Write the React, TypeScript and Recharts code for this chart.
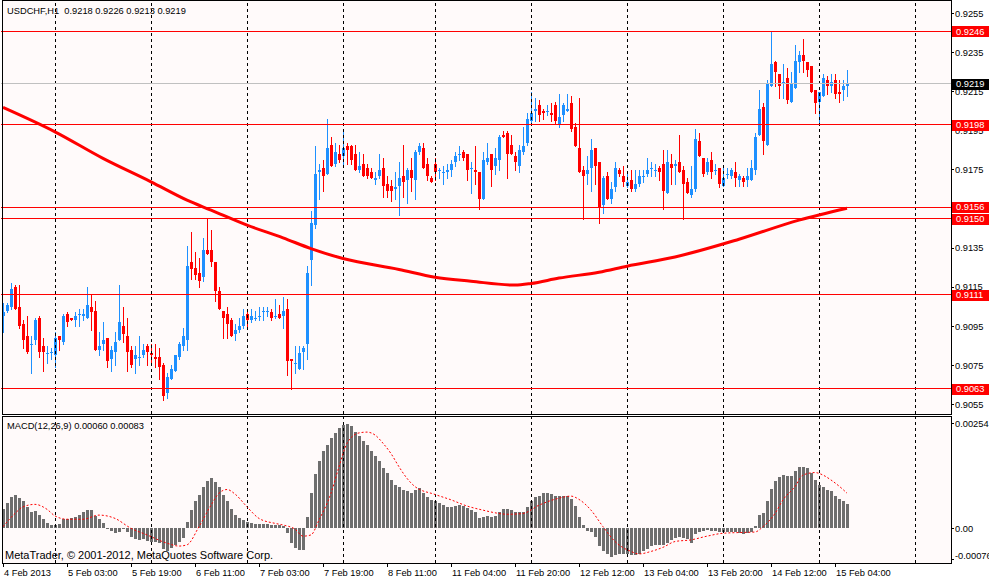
import React from 'react';
import { ComposedChart, Bar, Line, XAxis, YAxis, ReferenceLine } from 'recharts';

// USDCHF H1 candles, 4 Feb 11:00 .. 15 Feb 07:00 (212 bars)
const opens = [
  0.9100, 0.9103, 0.9105, 0.9115, 0.9105, 0.9096, 0.9090, 0.9086, 0.9088, 0.9099,
  0.9085, 0.9081, 0.9082, 0.9080, 0.9090, 0.9087, 0.9101, 0.9099, 0.9098, 0.9101,
  0.9100, 0.9099, 0.9105, 0.9103, 0.9083, 0.9086, 0.9089, 0.9078, 0.9082, 0.9088,
  0.9095, 0.9090, 0.9083, 0.9078, 0.9079, 0.9080, 0.9085, 0.9081, 0.9079, 0.9079,
  0.9075, 0.9061, 0.9068, 0.9072, 0.9079, 0.9085, 0.9088, 0.9128, 0.9125, 0.9122,
  0.9120, 0.9134, 0.9134, 0.9128, 0.9113, 0.9103, 0.9101, 0.9098, 0.9091, 0.9093,
  0.9095, 0.9101, 0.9098, 0.9099, 0.9100, 0.9102, 0.9102, 0.9102, 0.9100, 0.9101,
  0.9100, 0.9104, 0.9078, 0.9076, 0.9073, 0.9082, 0.9086, 0.9129, 0.9147, 0.9174,
  0.9176, 0.9173, 0.9188, 0.9178, 0.9183, 0.9182, 0.9187, 0.9187, 0.9183, 0.9175,
  0.9178, 0.9176, 0.9174, 0.9170, 0.9172, 0.9176, 0.9168, 0.9167, 0.9165, 0.9167,
  0.9172, 0.9170, 0.9175, 0.9170, 0.9184, 0.9186, 0.9178, 0.9171, 0.9178, 0.9175,
  0.9174, 0.9174, 0.9175, 0.9179, 0.9183, 0.9184, 0.9183, 0.9176, 0.9175, 0.9174,
  0.9160, 0.9179, 0.9183, 0.9177, 0.9180, 0.9193, 0.9194, 0.9188, 0.9182, 0.9177,
  0.9184, 0.9189, 0.9200, 0.9205, 0.9208, 0.9205, 0.9205, 0.9204, 0.9208, 0.9198,
  0.9203, 0.9205, 0.9209, 0.9197, 0.9186, 0.9175, 0.9173, 0.9176, 0.9186, 0.9179,
  0.9157, 0.9172, 0.9160, 0.9166, 0.9175, 0.9172, 0.9167, 0.9170, 0.9165, 0.9168,
  0.9172, 0.9173, 0.9176, 0.9175, 0.9176, 0.9178, 0.9163, 0.9178, 0.9177, 0.9179,
  0.9175, 0.9169, 0.9162, 0.9165, 0.9190, 0.9181, 0.9174, 0.9180, 0.9175, 0.9176,
  0.9167, 0.9173, 0.9172, 0.9174, 0.9170, 0.9171, 0.9170, 0.9170, 0.9175, 0.9193,
  0.9207, 0.9188, 0.9218, 0.9230, 0.9224, 0.9220, 0.9222, 0.9210, 0.9217, 0.9230,
  0.9234, 0.9230, 0.9228, 0.9216, 0.9210, 0.9213, 0.9221, 0.9218, 0.9221, 0.9215,
  0.9216, 0.9218,
];

const highs = [
  0.9107, 0.9107, 0.9117, 0.9116, 0.9116, 0.9098, 0.9100, 0.9090, 0.9099, 0.9100,
  0.9089, 0.9085, 0.9084, 0.9092, 0.9090, 0.9101, 0.9102, 0.9099, 0.9102, 0.9104,
  0.9104, 0.9115, 0.9111, 0.9108, 0.9092, 0.9097, 0.9089, 0.9085, 0.9092, 0.9116,
  0.9105, 0.9099, 0.9085, 0.9085, 0.9090, 0.9086, 0.9086, 0.9086, 0.9086, 0.9084,
  0.9076, 0.9071, 0.9075, 0.9080, 0.9087, 0.9094, 0.9136, 0.9143, 0.9133, 0.9130,
  0.9140, 0.9150, 0.9144, 0.9128, 0.9115, 0.9103, 0.9105, 0.9099, 0.9096, 0.9099,
  0.9104, 0.9104, 0.9104, 0.9103, 0.9105, 0.9105, 0.9105, 0.9104, 0.9109, 0.9106,
  0.9110, 0.9109, 0.9078, 0.9085, 0.9085, 0.9085, 0.9126, 0.9154, 0.9187, 0.9178,
  0.9180, 0.9201, 0.9192, 0.9189, 0.9188, 0.9195, 0.9189, 0.9188, 0.9188, 0.9184,
  0.9183, 0.9178, 0.9176, 0.9174, 0.9183, 0.9181, 0.9172, 0.9170, 0.9174, 0.9179,
  0.9188, 0.9176, 0.9181, 0.9185, 0.9189, 0.9189, 0.9181, 0.9172, 0.9181, 0.9176,
  0.9177, 0.9178, 0.9180, 0.9184, 0.9187, 0.9185, 0.9183, 0.9179, 0.9187, 0.9174,
  0.9184, 0.9189, 0.9183, 0.9186, 0.9193, 0.9195, 0.9195, 0.9193, 0.9184, 0.9188,
  0.9197, 0.9204, 0.9215, 0.9212, 0.9211, 0.9206, 0.9208, 0.9209, 0.9210, 0.9214,
  0.9209, 0.9214, 0.9213, 0.9199, 0.9212, 0.9177, 0.9182, 0.9191, 0.9186, 0.9179,
  0.9172, 0.9174, 0.9169, 0.9179, 0.9176, 0.9177, 0.9174, 0.9175, 0.9175, 0.9175,
  0.9175, 0.9181, 0.9179, 0.9178, 0.9177, 0.9185, 0.9185, 0.9183, 0.9180, 0.9193,
  0.9177, 0.9171, 0.9177, 0.9196, 0.9194, 0.9181, 0.9181, 0.9184, 0.9178, 0.9176,
  0.9176, 0.9176, 0.9176, 0.9179, 0.9173, 0.9172, 0.9176, 0.9180, 0.9194, 0.9216,
  0.9209, 0.9221, 0.9246, 0.9231, 0.9224, 0.9229, 0.9227, 0.9225, 0.9239, 0.9236,
  0.9242, 0.9230, 0.9228, 0.9216, 0.9215, 0.9224, 0.9223, 0.9224, 0.9224, 0.9221,
  0.9221, 0.9226,
];

const lows = [
  0.9092, 0.9102, 0.9104, 0.9104, 0.9094, 0.9084, 0.9081, 0.9071, 0.9086, 0.9079,
  0.9072, 0.9076, 0.9078, 0.9074, 0.9083, 0.9086, 0.9095, 0.9098, 0.9095, 0.9095,
  0.9098, 0.9099, 0.9093, 0.9083, 0.9080, 0.9083, 0.9074, 0.9072, 0.9075, 0.9088,
  0.9087, 0.9072, 0.9074, 0.9071, 0.9075, 0.9079, 0.9075, 0.9075, 0.9074, 0.9068,
  0.9057, 0.9058, 0.9068, 0.9072, 0.9078, 0.9083, 0.9083, 0.9119, 0.9119, 0.9115,
  0.9118, 0.9132, 0.9126, 0.9108, 0.9104, 0.9089, 0.9089, 0.9090, 0.9088, 0.9092,
  0.9094, 0.9094, 0.9097, 0.9098, 0.9098, 0.9098, 0.9100, 0.9098, 0.9099, 0.9099,
  0.9094, 0.9070, 0.9063, 0.9071, 0.9073, 0.9073, 0.9078, 0.9116, 0.9145, 0.9160,
  0.9164, 0.9173, 0.9177, 0.9177, 0.9179, 0.9177, 0.9178, 0.9178, 0.9175, 0.9174,
  0.9172, 0.9171, 0.9171, 0.9168, 0.9171, 0.9161, 0.9161, 0.9159, 0.9160, 0.9152,
  0.9161, 0.9158, 0.9164, 0.9160, 0.9183, 0.9176, 0.9170, 0.9169, 0.9170, 0.9171,
  0.9168, 0.9171, 0.9172, 0.9177, 0.9180, 0.9180, 0.9170, 0.9163, 0.9168, 0.9155,
  0.9160, 0.9178, 0.9167, 0.9173, 0.9175, 0.9192, 0.9171, 0.9183, 0.9175, 0.9174,
  0.9183, 0.9188, 0.9199, 0.9200, 0.9200, 0.9201, 0.9203, 0.9200, 0.9199, 0.9197,
  0.9200, 0.9205, 0.9195, 0.9187, 0.9174, 0.9150, 0.9168, 0.9164, 0.9168, 0.9148,
  0.9153, 0.9160, 0.9158, 0.9164, 0.9172, 0.9167, 0.9166, 0.9164, 0.9164, 0.9167,
  0.9169, 0.9172, 0.9172, 0.9172, 0.9170, 0.9155, 0.9163, 0.9168, 0.9168, 0.9174,
  0.9150, 0.9163, 0.9161, 0.9164, 0.9182, 0.9172, 0.9173, 0.9171, 0.9173, 0.9166,
  0.9167, 0.9171, 0.9171, 0.9167, 0.9167, 0.9167, 0.9167, 0.9170, 0.9173, 0.9193,
  0.9183, 0.9188, 0.9218, 0.9218, 0.9212, 0.9212, 0.9209, 0.9210, 0.9217, 0.9225,
  0.9225, 0.9223, 0.9215, 0.9204, 0.9199, 0.9213, 0.9214, 0.9215, 0.9212, 0.9210,
  0.9211, 0.9213,
];

const closes = [
  0.9102, 0.9106, 0.9114, 0.9104, 0.9095, 0.9088, 0.9082, 0.9086, 0.9098, 0.9082,
  0.9082, 0.9081, 0.9082, 0.9089, 0.9088, 0.9100, 0.9097, 0.9098, 0.9100, 0.9101,
  0.9101, 0.9106, 0.9102, 0.9083, 0.9085, 0.9088, 0.9077, 0.9083, 0.9087, 0.9097,
  0.9091, 0.9082, 0.9075, 0.9080, 0.9079, 0.9083, 0.9082, 0.9080, 0.9078, 0.9074,
  0.9059, 0.9069, 0.9073, 0.9080, 0.9086, 0.9090, 0.9126, 0.9124, 0.9121, 0.9118,
  0.9134, 0.9132, 0.9128, 0.9113, 0.9104, 0.9099, 0.9096, 0.9090, 0.9093, 0.9095,
  0.9100, 0.9098, 0.9100, 0.9099, 0.9100, 0.9103, 0.9103, 0.9099, 0.9100, 0.9099,
  0.9103, 0.9077, 0.9077, 0.9076, 0.9081, 0.9084, 0.9122, 0.9148, 0.9173, 0.9175,
  0.9172, 0.9186, 0.9177, 0.9184, 0.9180, 0.9186, 0.9185, 0.9180, 0.9175, 0.9177,
  0.9172, 0.9172, 0.9171, 0.9171, 0.9175, 0.9167, 0.9164, 0.9164, 0.9166, 0.9171,
  0.9169, 0.9175, 0.9171, 0.9184, 0.9187, 0.9176, 0.9172, 0.9169, 0.9174, 0.9175,
  0.9174, 0.9175, 0.9178, 0.9182, 0.9183, 0.9181, 0.9175, 0.9176, 0.9174, 0.9160,
  0.9180, 0.9181, 0.9175, 0.9181, 0.9192, 0.9192, 0.9183, 0.9183, 0.9179, 0.9185,
  0.9187, 0.9201, 0.9204, 0.9206, 0.9203, 0.9204, 0.9205, 0.9203, 0.9200, 0.9202,
  0.9208, 0.9206, 0.9196, 0.9187, 0.9174, 0.9172, 0.9175, 0.9185, 0.9177, 0.9156,
  0.9171, 0.9160, 0.9165, 0.9176, 0.9173, 0.9169, 0.9169, 0.9165, 0.9168, 0.9172,
  0.9172, 0.9175, 0.9176, 0.9175, 0.9174, 0.9164, 0.9179, 0.9176, 0.9178, 0.9174,
  0.9168, 0.9163, 0.9165, 0.9191, 0.9182, 0.9173, 0.9179, 0.9174, 0.9175, 0.9168,
  0.9171, 0.9173, 0.9175, 0.9171, 0.9172, 0.9169, 0.9172, 0.9176, 0.9192, 0.9206,
  0.9190, 0.9219, 0.9229, 0.9225, 0.9218, 0.9220, 0.9211, 0.9219, 0.9231, 0.9234,
  0.9231, 0.9226, 0.9215, 0.9209, 0.9215, 0.9222, 0.9218, 0.9220, 0.9214, 0.9214,
  0.9218, 0.9219,
];

// moving average, read at a few bars (library draws the curve between them)
const maIdx = [0, 13, 25, 37, 46, 52, 61, 70, 77, 85, 99, 108, 117, 128, 132, 139, 149, 156, 168, 184, 199, 211];
const maVal = [
  0.92070, 0.91945, 0.91809, 0.91689, 0.91595, 0.91544, 0.91467, 0.91402, 0.91347, 0.91296, 0.91240,
  0.91200, 0.91180, 0.91160, 0.91168, 0.91196, 0.91226, 0.91257, 0.91304, 0.91395, 0.91493, 0.91554,
];

// MACD(12,26,9) main histogram, one per bar
const macdHist = [
  0.00047, 0.00062, 0.00075, 0.00080, 0.00073, 0.00067, 0.00052, 0.00040, 0.00043, 0.00032,
  0.00023, 0.00012, 0.00008, 0.00008, 0.00010, 0.00022, 0.00023, 0.00026, 0.00028, 0.00032,
  0.00039, 0.00044, 0.00044, 0.00030, 0.00022, 0.00012, -0.00002, -0.00006, -0.00012, -0.00008,
  -0.00002, -0.00008, -0.00020, -0.00027, -0.00028, -0.00027, -0.00030, -0.00034, -0.00032, -0.00036,
  -0.00051, -0.00054, -0.00048, -0.00040, -0.00032, -0.00024, 0.00015, 0.00044, 0.00065, 0.00081,
  0.00100, 0.00115, 0.00123, 0.00113, 0.00100, 0.00081, 0.00065, 0.00046, 0.00032, 0.00024,
  0.00020, 0.00016, 0.00014, 0.00010, 0.00010, 0.00010, 0.00010, 0.00008, 0.00008, 0.00008,
  0.00006, -0.00012, -0.00036, -0.00048, -0.00052, -0.00052, 0.00028, 0.00085, 0.00131, 0.00164,
  0.00188, 0.00202, 0.00218, 0.00231, 0.00242, 0.00250, 0.00252, 0.00248, 0.00234, 0.00223,
  0.00212, 0.00202, 0.00188, 0.00175, 0.00164, 0.00145, 0.00133, 0.00117, 0.00105, 0.00099,
  0.00093, 0.00091, 0.00085, 0.00093, 0.00097, 0.00086, 0.00077, 0.00069, 0.00067, 0.00062,
  0.00056, 0.00052, 0.00052, 0.00055, 0.00056, 0.00055, 0.00048, 0.00044, 0.00040, 0.00024,
  0.00028, 0.00030, 0.00028, 0.00030, 0.00039, 0.00047, 0.00047, 0.00044, 0.00040, 0.00040,
  0.00040, 0.00052, 0.00065, 0.00075, 0.00079, 0.00085, 0.00086, 0.00083, 0.00078, 0.00078,
  0.00078, 0.00078, 0.00070, 0.00054, 0.00027, 0.00008, -0.00006, -0.00008, -0.00020, -0.00043,
  -0.00056, -0.00062, -0.00069, -0.00065, -0.00062, -0.00062, -0.00062, -0.00065, -0.00065, -0.00062,
  -0.00056, -0.00051, -0.00044, -0.00040, -0.00040, -0.00040, -0.00035, -0.00028, -0.00024, -0.00022,
  -0.00024, -0.00027, -0.00035, -0.00014, -0.00008, -0.00006, -0.00004, -0.00006, -0.00006, -0.00008,
  -0.00010, -0.00010, -0.00010, -0.00010, -0.00012, -0.00014, -0.00012, -0.00008, 0.00006, 0.00032,
  0.00036, 0.00067, 0.00095, 0.00115, 0.00125, 0.00129, 0.00127, 0.00127, 0.00140, 0.00148,
  0.00149, 0.00145, 0.00133, 0.00117, 0.00105, 0.00099, 0.00093, 0.00090, 0.00078, 0.00070,
  0.00067, 0.00060,
];

// MACD signal line, read at a few bars
const signalIdx = [
  0, 3, 5, 8, 11, 13, 16, 20, 24, 28, 32, 36, 41, 44, 46, 49, 52, 54, 56, 58, 61, 64, 68, 70,
  73, 75, 77, 79, 82, 84, 86, 89, 91, 93, 95, 97, 99, 101, 103, 108, 112, 116, 120, 124, 126,
  130, 134, 139, 142, 144, 147, 150, 153, 157, 159, 162, 165, 168, 172, 176, 180, 185, 188,
  190, 193, 195, 198, 200, 203, 205, 207, 210, 211,
];
const signalVal = [
  0.00004, 0.00036, 0.00052, 0.00058, 0.00046, 0.00030, 0.00022, 0.00022, 0.00032, 0.00024,
  0.00000, -0.00016, -0.00036, -0.00043, -0.00040, 0.00004, 0.00056, 0.00085, 0.00094, 0.00083,
  0.00052, 0.00024, 0.00012, 0.00008, -0.00002, -0.00019, -0.00016, 0.00020, 0.00085, 0.00149,
  0.00206, 0.00231, 0.00233, 0.00226, 0.00206, 0.00181, 0.00149, 0.00121, 0.00101, 0.00082,
  0.00069, 0.00054, 0.00044, 0.00036, 0.00034, 0.00036, 0.00056, 0.00073, 0.00078, 0.00070,
  0.00044, 0.00004, -0.00032, -0.00056, -0.00062, -0.00056, -0.00046, -0.00032, -0.00028, -0.00019,
  -0.00012, -0.00010, -0.00009, 0.00004, 0.00036, 0.00069, 0.00101, 0.00129, 0.00135, 0.00129,
  0.00117, 0.00094, 0.00085,
];

const tickIdx = [0, 16, 32, 48, 64, 80, 96, 112, 128, 144, 160, 176, 192, 208];
const tickText = [
  '4 Feb 2013', '5 Feb 03:00', '5 Feb 19:00', '6 Feb 11:00', '7 Feb 03:00', '7 Feb 19:00', '8 Feb 11:00',
  '11 Feb 04:00', '11 Feb 20:00', '12 Feb 12:00', '13 Feb 04:00', '13 Feb 20:00', '14 Feb 12:00', '15 Feb 04:00',
];
const dayStartIdx = [13, 37, 61, 85, 108, 132, 156, 180, 204, 228];
const levels = [0.9246, 0.9198, 0.9156, 0.9150, 0.9111, 0.9063];
const bid = 0.9219;
const priceTicks = [0.9255, 0.9235, 0.9215, 0.9195, 0.9175, 0.9155, 0.9135, 0.9115, 0.9095, 0.9075, 0.9055];
const macdTicks = [0.00254, 0, -0.00076];

const SLOTS = 238;
const FONT = '"Liberation Sans", Arial, sans-serif';
const FS = 9.3;
const BULL = '#1E90FF';
const BEAR = '#FF0000';

const data: any[] = Array.from({ length: SLOTS }, (_, i) => {
  const has = i < opens.length;
  return {
    i,
    range: has ? [lows[i], highs[i]] : null,
    open: has ? opens[i] : null,
    close: has ? closes[i] : null,
    macd: has ? macdHist[i] : null,
    signal: null,
    ma: null,
  };
});
maIdx.forEach((k, j) => { data[k].ma = maVal[j]; });
signalIdx.forEach((k, j) => { data[k].signal = signalVal[j]; });

// plain scale ticks first, the line tags after them so the tags cover the ticks
const axisTicks = [...priceTicks, ...levels, bid];

const Candle = (props: any) => {
  const { x, y, height, payload } = props;
  if (!payload || payload.open == null || y == null) return null;
  const { open, close } = payload;
  const [low, high] = payload.range;
  const color = close >= open ? BULL : BEAR;
  const k = high > low ? height / (high - low) : 0;
  const top = Math.round(y);
  const bottom = Math.round(y + height);
  const bTop = Math.round(y + (high - Math.max(open, close)) * k);
  const bBot = Math.round(y + (high - Math.min(open, close)) * k);
  const bx = Math.round(x);
  return (
    <g>
      <rect x={bx + 1} y={top} width={1} height={Math.max(1, bottom - top + 1)} fill={color} />
      <rect x={bx} y={bTop} width={3} height={Math.max(1, bBot - bTop)} fill={color} />
    </g>
  );
};

const HistBar = (props: any) => {
  const { x, y, height } = props;
  if (y == null || height == null) return null;
  const t = Math.round(Math.min(y, y + height));
  const b = Math.round(Math.max(y, y + height));
  return <rect x={Math.round(x)} y={t} width={3} height={Math.max(1, b - t)} fill="#6E6E6E" />;
};

const PriceTick = (props: any) => {
  const { x, y, payload } = props;
  const v = payload.value;
  const isLevel = levels.includes(v);
  if (isLevel || v === bid) {
    return (
      <g>
        <rect x={x - 1} y={Math.round(y) - 5} width={40} height={11} fill={isLevel ? '#FF0000' : '#000000'} />
        <text x={x + 3} y={y + 3.4} fill="#FFFFFF" fontSize={FS} fontFamily={FONT}>{v.toFixed(4)}</text>
      </g>
    );
  }
  return (
    <g>
      <line x1={x - 2} x2={x + 1} y1={y} y2={y} stroke="#000" />
      <text x={x + 2} y={y + 3.4} fontSize={FS} fontFamily={FONT} fill="#000">{v.toFixed(4)}</text>
    </g>
  );
};

const MacdTick = (props: any) => {
  const { x, y, payload } = props;
  const v = payload.value;
  const txt = v === 0 ? '0.00' : v.toFixed(5);
  const dy = v < 0 ? -3.7 : 0;
  return (
    <g>
      <line x1={x - 2} x2={x + 1} y1={y} y2={y} stroke="#000" />
      <text x={x + 2} y={y + 3.4 + dy} fontSize={FS} fontFamily={FONT} fill="#000">{txt}</text>
    </g>
  );
};

const TimeTick = (props: any) => {
  const { x, y, payload } = props;
  const k = tickIdx.indexOf(payload.value);
  if (k < 0) return null;
  return (
    <g>
      <line x1={x} x2={x} y1={y} y2={y + 4} stroke="#000" />
      <text x={x + 1} y={y + 13} fontSize={FS} fontFamily={FONT} fill="#000">{tickText[k]}</text>
    </g>
  );
};

const textStyle: React.CSSProperties = {
  position: 'absolute', fontFamily: FONT, fontSize: FS, lineHeight: '12px', color: '#000', whiteSpace: 'pre',
};

export default function App() {
  return (
    <div style={{ position: 'fixed', left: 0, top: 0, width: 989, height: 580, background: '#FFFFFF', overflow: 'hidden' }}>
      <style>{`.crisp rect, .crisp line { shape-rendering: crispEdges; }`}</style>
      <div style={{ position: 'absolute', left: 2, top: 0, width: 949, height: 414, background: '#FFFAFA' }} />
      <div style={{ position: 'absolute', left: 2, top: 416, width: 949, height: 147, background: '#FFFAFA' }} />

      <div className="crisp" style={{ position: 'absolute', left: 0, top: 0 }}>
        <ComposedChart width={989} height={414} data={data} margin={{ top: 0, right: 0, bottom: 0, left: 1 }}>
          <XAxis dataKey="i" type="category" hide />
          <YAxis
            orientation="right" width={36} domain={[0.905, 0.9262]} allowDataOverflow ticks={axisTicks}
            axisLine={false} tickLine={false} tickSize={0} tickMargin={0} interval={0} tick={<PriceTick />}
          />
          {dayStartIdx.map((k) => (
            <ReferenceLine key={`d${k}`} x={k} stroke="#000" strokeDasharray="3 3" />
          ))}
          <Bar dataKey="range" barSize={3} shape={<Candle />} isAnimationActive={false} />
          <Line
            dataKey="ma" type="monotone" connectNulls stroke="#FF0000" strokeWidth={3}
            dot={false} activeDot={false} isAnimationActive={false}
          />
          <ReferenceLine y={bid} stroke="#C0C0C0" />
          {levels.map((v) => (
            <ReferenceLine key={`l${v}`} y={v} stroke="#FF0000" />
          ))}
        </ComposedChart>
      </div>

      <div className="crisp" style={{ position: 'absolute', left: 0, top: 416 }}>
        <ComposedChart width={989} height={164} data={data} margin={{ top: 0, right: 0, bottom: 0, left: 1 }}>
          <XAxis
            dataKey="i" type="category" height={17} ticks={tickIdx} interval={0}
            axisLine={false} tickLine={false} tickSize={0} tickMargin={0} tick={<TimeTick />}
          />
          <YAxis
            orientation="right" width={36} domain={[-0.00084, 0.00272]} allowDataOverflow ticks={macdTicks}
            axisLine={false} tickLine={false} tickSize={0} tickMargin={0} interval={0} tick={<MacdTick />}
          />
          {dayStartIdx.map((k) => (
            <ReferenceLine key={`m${k}`} x={k} stroke="#000" strokeDasharray="3 3" />
          ))}
          <Bar dataKey="macd" barSize={3} shape={<HistBar />} isAnimationActive={false} />
          <Line
            dataKey="signal" type="monotone" connectNulls stroke="#FF0000" strokeWidth={1} strokeDasharray="2 2"
            dot={false} activeDot={false} isAnimationActive={false}
          />
        </ComposedChart>
      </div>

      <div style={{ position: 'absolute', left: 2, top: 0, width: 950, height: 415, boxSizing: 'border-box', border: '1px solid #000', pointerEvents: 'none' }} />
      <div style={{ position: 'absolute', left: 2, top: 416, width: 950, height: 148, boxSizing: 'border-box', border: '1px solid #000', pointerEvents: 'none' }} />

      <div style={{ ...textStyle, left: 7, top: 5 }}>USDCHF,H1  0.9218 0.9226 0.9213 0.9219</div>
      <div style={{ ...textStyle, left: 7, top: 420 }}>MACD(12,26,9) 0.00060 0.00083</div>
      <div style={{ ...textStyle, left: 5, top: 549, fontSize: 11, lineHeight: '13px' }}>MetaTrader, © 2001-2012, MetaQuotes Software Corp.</div>
    </div>
  );
}
